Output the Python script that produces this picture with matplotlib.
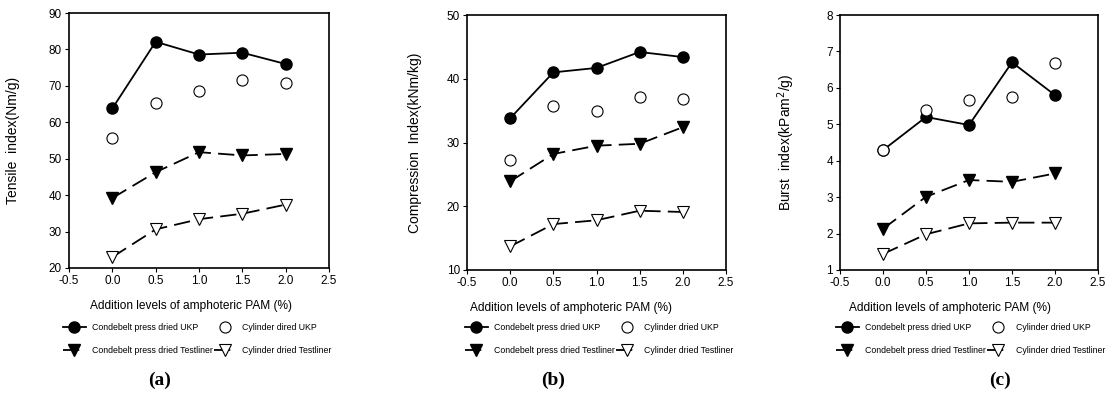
import matplotlib
matplotlib.use("Agg")
import matplotlib.pyplot as plt

plt.rcParams['font.family'] = ['Liberation Sans', 'DejaVu Sans']

x = [0.0, 0.5, 1.0, 1.5, 2.0]
series_names = ["Condebelt press dried UKP", "Cylinder dired UKP",
                "Condebelt press dried Testliner", "Cylinder dried Testliner"]
series_names_bc = ["Condebelt press dried UKP", "Cylinder dried UKP",
                   "Condebelt press dried Testliner", "Cylinder dried Testliner"]

# (a) Tensile index
tensile_cond_ukp = [63.8, 82.1, 78.6, 79.1, 76.0]
tensile_cyl_ukp = [55.6, 65.3, 68.6, 71.7, 70.9]
tensile_cond_tl = [39.2, 46.3, 51.8, 50.9, 51.3]
tensile_cyl_tl = [23.0, 30.6, 33.4, 34.9, 37.4]

# (b) Compression index
comp_cond_ukp = [33.8, 41.0, 41.7, 44.2, 43.4]
comp_cyl_ukp = [27.3, 35.8, 35.0, 37.2, 36.8]
comp_cond_tl = [23.9, 28.2, 29.5, 29.8, 32.4]
comp_cyl_tl = [13.7, 17.2, 17.8, 19.3, 19.1]

# (c) Burst index
burst_cond_ukp = [4.29, 5.20, 4.98, 6.70, 5.80]
burst_cyl_ukp = [4.30, 5.40, 5.66, 5.75, 6.67]
burst_cond_tl = [2.13, 3.01, 3.47, 3.42, 3.65]
burst_cyl_tl = [1.44, 1.98, 2.28, 2.30, 2.30]

xticks = [-0.5, 0.0, 0.5, 1.0, 1.5, 2.0, 2.5]
xticklabels = ["-0.5", "0.0", "0.5", "1.0", "1.5", "2.0", "2.5"]
xlabel = "Addition levels of amphoteric PAM (%)"

panels = [
    dict(data=[tensile_cond_ukp, tensile_cyl_ukp, tensile_cond_tl, tensile_cyl_tl],
         ylim=(20, 90), yticks=[20, 30, 40, 50, 60, 70, 80, 90],
         ylabel="Tensile  index(Nm/g)", names=series_names, tag="(a)"),
    dict(data=[comp_cond_ukp, comp_cyl_ukp, comp_cond_tl, comp_cyl_tl],
         ylim=(10, 50), yticks=[10, 20, 30, 40, 50],
         ylabel="Compression  Index(kNm/kg)", names=series_names_bc, tag="(b)"),
    dict(data=[burst_cond_ukp, burst_cyl_ukp, burst_cond_tl, burst_cyl_tl],
         ylim=(1, 8), yticks=[1, 2, 3, 4, 5, 6, 7, 8],
         ylabel="Burst  index(kPam$^2$/g)", names=series_names_bc, tag="(c)"),
]

W, H = 1120, 395
fig = plt.figure(figsize=(W / 100, H / 100), dpi=100)

ax_px = [(69, 13, 329, 268), (467, 15, 726, 270), (840, 15, 1098, 270)]
ylabel_x = [-0.19, -0.175, -0.168]
xlabel_x = [0.47, 0.40, 0.426]
legend_px = [(63, 323), (465, 323), (836, 323)]
tag_px = [(160, 380), (553, 380), (1000, 380)]

for p, (l, t, r, b), ylx, xlx, (lx, ly), (tx, ty) in zip(
        panels, ax_px, ylabel_x, xlabel_x, legend_px, tag_px):
    ax = fig.add_axes([l / W, 1 - b / H, (r - l) / W, (b - t) / H])
    d = p["data"]
    h1, = ax.plot(x, d[0], color="black", lw=1.3, marker="o", ms=8,
                  mfc="black", mec="black", label=p["names"][0], zorder=3)
    h2, = ax.plot(x, d[1], color="black", lw=0, marker="o", ms=8,
                  mfc="white", mec="black", mew=0.8, label=p["names"][1],
                  linestyle="none", zorder=4)
    h3, = ax.plot(x, d[2], color="black", lw=1.3, marker="v", ms=8,
                  mfc="black", mec="black", label=p["names"][2],
                  dashes=(9, 4), zorder=3)
    h4, = ax.plot(x, d[3], color="black", lw=1.3, marker="v", ms=8,
                  mfc="white", mec="black", mew=0.8, label=p["names"][3],
                  dashes=(9, 4), zorder=3)
    ax.set_xlim(-0.5, 2.5)
    ax.set_ylim(*p["ylim"])
    ax.set_xticks(xticks)
    ax.set_xticklabels(xticklabels)
    ax.set_yticks(p["yticks"])
    ax.tick_params(direction="out", length=3, width=0.8, labelsize=8.5, pad=2)
    for s in ax.spines.values():
        s.set_linewidth(1.2)
    ax.set_ylabel(p["ylabel"], fontsize=10)
    ax.yaxis.set_label_coords(ylx, 0.5)
    ax.set_xlabel(xlabel, fontsize=8.6)
    ax.xaxis.set_label_coords(xlx, -0.125)
    fig.legend(handles=[h1, h3, h2, h4], ncol=2, loc="upper left",
               bbox_to_anchor=(lx / W, 1 - ly / H), frameon=False,
               fontsize=6.3, handlelength=2.6, handletextpad=0.7,
               columnspacing=0.1, labelspacing=1.6, borderpad=0,
               borderaxespad=0, markerscale=1.0)
    fig.text(tx / W, 1 - ty / H, p["tag"], ha="center", va="center",
             fontsize=14, fontweight="bold", family="Liberation Serif")

fig.savefig("out.png", dpi=100)
